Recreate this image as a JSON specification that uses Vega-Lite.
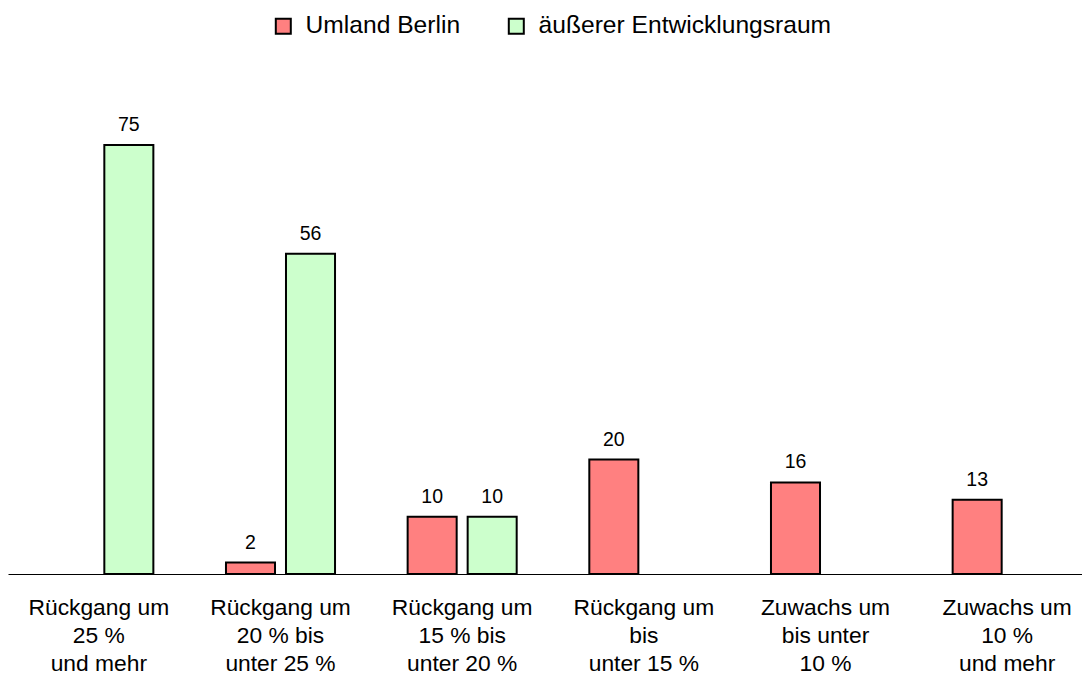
{
  "$schema": "https://vega.github.io/schema/vega-lite/v6.json",
  "autosize": {"type": "none"},
  "width": 1074,
  "height": 429,
  "padding": {"left": 8, "top": 145, "right": 0, "bottom": 103},
  "background": "white",
  "config": {"view": {"stroke": null}, "font": "Liberation Sans"},
  "data": {
    "values": [
      {"cat": "Rückgang um|25 %|und mehr", "series": "äußerer Entwicklungsraum", "value": 75},
      {"cat": "Rückgang um|20 % bis|unter 25 %", "series": "Umland Berlin", "value": 2},
      {"cat": "Rückgang um|20 % bis|unter 25 %", "series": "äußerer Entwicklungsraum", "value": 56},
      {"cat": "Rückgang um|15 % bis|unter 20 %", "series": "Umland Berlin", "value": 10},
      {"cat": "Rückgang um|15 % bis|unter 20 %", "series": "äußerer Entwicklungsraum", "value": 10},
      {"cat": "Rückgang um|bis|unter 15 %", "series": "Umland Berlin", "value": 20},
      {"cat": "Zuwachs um|bis unter|10 %", "series": "Umland Berlin", "value": 16},
      {"cat": "Zuwachs um|10 %|und mehr", "series": "Umland Berlin", "value": 13}
    ]
  },
  "encoding": {
    "x": {
      "field": "cat",
      "type": "nominal",
      "sort": null,
      "scale": {"range": [0, 1090], "paddingInner": 0, "paddingOuter": 0},
      "axis": {
        "title": null,
        "domain": true,
        "domainColor": "black",
        "domainWidth": 1,
        "ticks": false,
        "grid": false,
        "labelAngle": 0,
        "labelFontSize": 22.8,
        "labelFont": "Liberation Sans",
        "labelColor": "black",
        "labelExpr": "split(datum.label, '|')",
        "labelLineHeight": 28.2,
        "labelPadding": 22.5,
        "labelBaseline": "top",
        "labelLimit": 0
      }
    },
    "xOffset": {
      "field": "series",
      "type": "nominal",
      "scale": {"domain": ["Umland Berlin", "äußerer Entwicklungsraum"], "paddingInner": 0.183, "paddingOuter": 0.605}
    },
    "y": {
      "field": "value",
      "type": "quantitative",
      "scale": {"domain": [0, 75]},
      "axis": null
    }
  },
  "layer": [
    {
      "mark": {"type": "bar", "stroke": "black", "strokeWidth": 2},
      "encoding": {
        "color": {
          "field": "series",
          "type": "nominal",
          "scale": {"domain": ["Umland Berlin", "äußerer Entwicklungsraum"], "range": ["#ff8080", "#ccffcc"]},
          "legend": {
            "title": null,
            "orient": "none",
            "legendX": 263,
            "legendY": -131,
            "direction": "horizontal",
            "symbolType": "square",
            "symbolSize": 225,
            "symbolStrokeColor": "black",
            "symbolStrokeWidth": 2,
            "labelFontSize": 24.6,
            "labelFont": "Liberation Sans",
            "labelColor": "black",
            "labelOffset": 10,
            "columnPadding": 43,
            "labelLimit": 0
          }
        }
      }
    },
    {
      "mark": {"type": "text", "baseline": "alphabetic", "dy": -14, "fontSize": 19.5, "color": "black", "font": "Liberation Sans"},
      "encoding": {"text": {"field": "value", "type": "quantitative"}}
    }
  ]
}
